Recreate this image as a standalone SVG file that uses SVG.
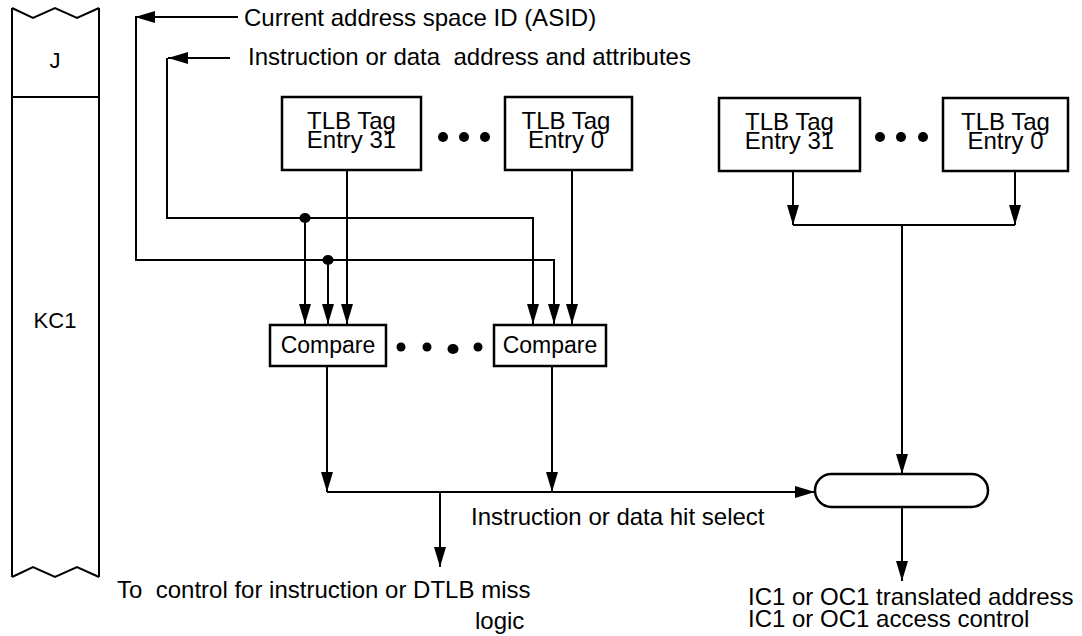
<svg xmlns="http://www.w3.org/2000/svg" width="1082" height="636" viewBox="0 0 1082 636">
<style>
text{font-family:"Liberation Sans",Arial,Helvetica,sans-serif;font-size:24px;fill:#000;white-space:pre}
.box{fill:#fff;stroke:#000;stroke-width:2.5}
.ln{fill:none;stroke:#000;stroke-width:2}
.arr{fill:none;stroke:#000;stroke-width:2;marker-end:url(#ah)}
.c{text-anchor:middle}
.cmp{font-size:23px}
.side{font-size:22px}
</style>
<defs>
<marker id="ah" markerUnits="userSpaceOnUse" markerWidth="20" markerHeight="12" refX="20" refY="6" orient="auto">
<path d="M0,0 L20,6 L0,12 z" fill="#000"/>
</marker>
</defs>
<rect width="1082" height="636" fill="#fff"/>

<g id="side-column">
<path class="ln" d="M12,8 L33,18 L55,8 L77,18 L99,8 M12,8 V577 M99,8 V577 M12,97 H99 M12,577 L33,567 L55,577 L77,567 L99,577"/>
<text class="c side" x="55" y="68">J</text>
<text class="c side" x="55" y="328">KC1</text>
</g>

<g id="connectors">
<path class="arr" d="M238,17 H135"/>
<path class="arr" d="M136,17 V260 H554 V324"/>
<path class="arr" d="M230,58 H168"/>
<path class="arr" d="M167,58 V218 H533 V324"/>
<path class="arr" d="M305,218 V324"/>
<path class="arr" d="M328,260 V324"/>
<path class="arr" d="M347,170 V324"/>
<path class="arr" d="M572,170 V324"/>
<ellipse cx="305" cy="218" rx="5.5" ry="5"/>
<ellipse cx="328" cy="260" rx="5.5" ry="5"/>
<path class="arr" d="M327,366 V492"/>
<path class="arr" d="M552,366 V492"/>
<path class="arr" d="M327,492 H815"/>
<path class="arr" d="M440,492 V567"/>
<path class="arr" d="M793,171 V225"/>
<path class="arr" d="M1015,171 V225"/>
<path class="ln" d="M793,225 H1015"/>
<path class="arr" d="M902,225 V474"/>
<path class="arr" d="M902,507 V581"/>
</g>

<g id="label-asid"><text x="244" y="26">Current address space ID (ASID)</text></g>
<g id="label-addr"><text x="248" y="65">Instruction or data  address and attributes</text></g>

<g id="tlb-l31">
<rect class="box" x="282" y="97" width="139" height="73"/>
<text class="c" x="351.5" y="129">TLB Tag</text>
<text class="c" x="351.5" y="148">Entry 31</text>
</g>
<g id="dots-l">
<circle cx="443" cy="137" r="5"/><circle cx="464" cy="137" r="5"/><circle cx="485" cy="137" r="5"/>
</g>
<g id="tlb-l0">
<rect class="box" x="505" y="97" width="127" height="73"/>
<text class="c" x="566" y="129">TLB Tag</text>
<text class="c" x="566" y="148">Entry 0</text>
</g>

<g id="tlb-r31">
<rect class="box" x="719" y="98" width="141" height="73"/>
<text class="c" x="789.5" y="130">TLB Tag</text>
<text class="c" x="789.5" y="149">Entry 31</text>
</g>
<g id="dots-r">
<circle cx="880" cy="137" r="5"/><circle cx="901" cy="137" r="5"/><circle cx="923" cy="137" r="5"/>
</g>
<g id="tlb-r0">
<rect class="box" x="943" y="98" width="125" height="73"/>
<text class="c" x="1005.5" y="130">TLB Tag</text>
<text class="c" x="1005.5" y="149">Entry 0</text>
</g>

<g id="compare-1">
<rect class="box" x="270" y="325" width="116" height="41"/>
<text class="c cmp" x="328" y="353">Compare</text>
</g>
<g id="dots-c">
<circle cx="401" cy="347" r="4.5"/><circle cx="427" cy="347" r="4.5"/><ellipse cx="453" cy="349" rx="5.5" ry="5"/><circle cx="478" cy="347" r="4.5"/>
</g>
<g id="compare-2">
<rect class="box" x="494" y="325" width="112" height="41"/>
<text class="c cmp" x="550" y="353">Compare</text>
</g>

<g id="mux">
<rect class="box" x="815" y="474" width="173" height="33" rx="16.5" ry="16.5"/>
</g>

<g id="label-hit"><text x="471" y="525">Instruction or data hit select</text></g>
<g id="label-miss">
<text x="117" y="598">To  control for instruction or DTLB miss</text>
<text x="475" y="629">logic</text>
</g>
<g id="label-out">
<text x="748" y="605">IC1 or OC1 translated address</text>
<text x="748" y="627">IC1 or OC1 access control</text>
</g>
</svg>
